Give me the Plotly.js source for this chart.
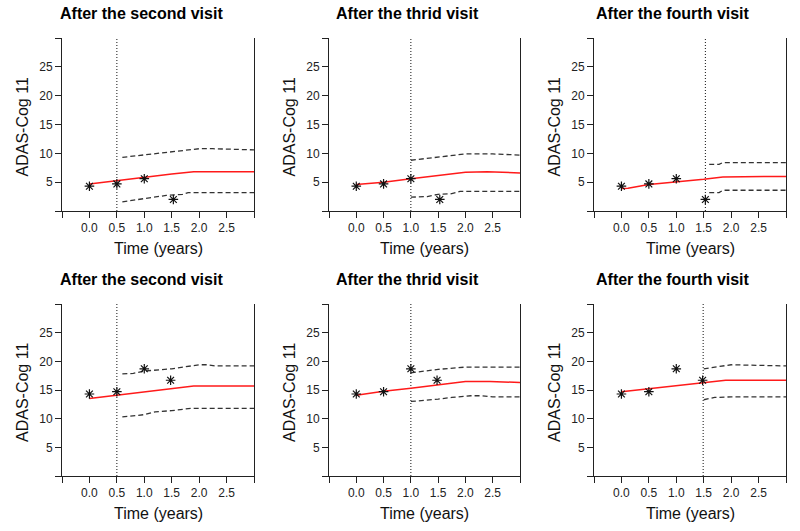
<!DOCTYPE html>
<html><head><meta charset="utf-8">
<script src="https://cdn.plot.ly/plotly-3.0.1.min.js"></script>
<style>html,body{margin:0;padding:0;background:#fff}#chart{width:800px;height:531px}</style>
</head><body><div id="chart"></div>
<script>
// ---------- data ----------
const panelTitles = ["After the second visit", "After the thrid visit", "After the fourth visit",
                     "After the second visit", "After the thrid visit", "After the fourth visit"];
const xTickVals = [-0.5, 0, 0.5, 1.0, 1.5, 2.0, 2.5, 3.0];
const xTickText = ["", "0.0", "0.5", "1.0", "1.5", "2.0", "2.5", ""];
const yTickVals = [0, 5, 10, 15, 20, 25, 30];
const yTickText = ["", "5", "10", "15", "20", "25", ""];
const xTitle = "Time (years)";
const yTitle = "ADAS-Cog 11";

// observed scores (patient of top row / bottom row)
const obsTimeTop = [0, 0.5, 1.0, 1.53];
const obsScoreTop = [4.3, 4.7, 5.6, 2.0];
const obsTimeBottom = [0, 0.5, 1.0, 1.48];
const obsScoreBottom = [14.3, 14.7, 18.7, 16.7];

// landmark (visit) time of each panel
const landmarkTimes = [0.5, 1.0, 1.53, 0.5, 1.0, 1.49];

// predicted mean trajectories
const meanT1 = [0, 0.5, 1.0, 1.5, 1.9, 3.0];
const meanY1 = [4.7, 5.3, 5.8, 6.4, 6.8, 6.8];
const meanT2 = [0, 0.5, 1.0, 1.5, 2.0, 2.4, 3.0];
const meanY2 = [4.6, 5.0, 5.6, 6.2, 6.7, 6.8, 6.6];
const meanT3 = [0, 0.12, 0.5, 1.0, 1.5, 1.85, 3.0];
const meanY3 = [3.9, 3.95, 4.6, 5.0, 5.5, 5.9, 6.0];
const meanT4 = [0, 0.5, 1.0, 1.5, 1.9, 3.0];
const meanY4 = [13.5, 14.1, 14.6, 15.2, 15.7, 15.7];
const meanT5 = [0, 0.5, 1.0, 1.5, 2.0, 2.45, 3.0];
const meanY5 = [14.1, 14.8, 15.3, 15.9, 16.5, 16.5, 16.3];
const meanT6 = [0, 0.5, 1.0, 1.5, 1.9, 3.0];
const meanY6 = [14.7, 15.2, 15.7, 16.3, 16.7, 16.7];

// upper prediction bounds
const upT1 = [0.6, 1.0, 1.5, 2.0, 2.25, 3.0];
const upY1 = [9.3, 9.7, 10.3, 10.8, 10.8, 10.6];
const upT2 = [1.0, 1.5, 1.8, 2.0, 2.5, 3.0];
const upY2 = [8.8, 9.3, 9.6, 9.9, 9.9, 9.7];
const upT3 = [1.6, 1.78, 1.85, 3.0];
const upY3 = [8.1, 8.1, 8.4, 8.4];
const upT4 = [0.6, 0.8, 1.0, 1.5, 2.0, 2.15, 2.3, 3.0];
const upY4 = [17.8, 17.9, 18.3, 18.7, 19.4, 19.4, 19.2, 19.2];
const upT5 = [1.0, 1.5, 2.0, 3.0];
const upY5 = [18.0, 18.6, 19.0, 19.0];
const upT6 = [1.5, 1.7, 2.0, 3.0];
const upY6 = [18.7, 19.0, 19.4, 19.2];

// lower prediction bounds
const loT1 = [0.6, 1.0, 1.4, 1.7, 1.8, 3.0];
const loY1 = [1.6, 2.1, 2.7, 2.9, 3.2, 3.2];
const loT2 = [1.0, 1.3, 1.5, 1.75, 1.9, 3.0];
const loY2 = [2.4, 2.5, 2.9, 3.0, 3.4, 3.4];
const loT3 = [1.6, 1.78, 1.85, 3.0];
const loY3 = [3.2, 3.2, 3.6, 3.6];
const loT4 = [0.6, 1.0, 1.2, 1.5, 1.85, 3.0];
const loY4 = [10.3, 10.7, 11.2, 11.4, 11.8, 11.8];
const loT5 = [1.0, 1.3, 1.5, 1.75, 2.1, 2.3, 2.5, 3.0];
const loY5 = [13.0, 13.2, 13.4, 13.7, 14.0, 14.0, 13.8, 13.8];
const loT6 = [1.5, 1.7, 2.0, 3.0];
const loY6 = [13.3, 13.7, 13.8, 13.8];

// ---------- build ----------
const W = 800, H = 531;
const FONT = "Liberation Sans, Arial, sans-serif";
const colLR = [[62, 254], [329, 520], [594, 786]];
const rowTB = [[38, 211], [304, 476]];

const means = [[meanT1, meanY1], [meanT2, meanY2], [meanT3, meanY3], [meanT4, meanY4], [meanT5, meanY5], [meanT6, meanY6]];
const ups = [[upT1, upY1], [upT2, upY2], [upT3, upY3], [upT4, upY4], [upT5, upY5], [upT6, upY6]];
const los = [[loT1, loY1], [loT2, loY2], [loT3, loY3], [loT4, loY4], [loT5, loY5], [loT6, loY6]];

const traces = [];
const layout = {
  width: W, height: H, margin: {l: 0, r: 0, t: 0, b: 0},
  paper_bgcolor: "#fff", plot_bgcolor: "#fff", showlegend: false,
  font: {family: FONT, color: "#222"}, annotations: []
};

for (let i = 0; i < 6; i++) {
  const row = Math.floor(i / 3), col = i % 3;
  const [L, R] = colLR[col], [T, B] = rowTB[row];
  const sfx = i === 0 ? "" : String(i + 1);
  const xa = "x" + sfx, ya = "y" + sfx;
  const obsT = row === 0 ? obsTimeTop : obsTimeBottom;
  const obsY = row === 0 ? obsScoreTop : obsScoreBottom;

  // landmark dotted line
  traces.push({x: [landmarkTimes[i], landmarkTimes[i]], y: [yTickVals[0], yTickVals[yTickVals.length - 1]],
    xaxis: xa, yaxis: ya, mode: "lines", line: {color: "#111", width: 1, dash: "1px,2px"}, hoverinfo: "skip"});
  // bounds
  traces.push({x: ups[i][0], y: ups[i][1], xaxis: xa, yaxis: ya, mode: "lines",
    line: {color: "#333", width: 1.3, dash: "5px,3px"}});
  traces.push({x: los[i][0], y: los[i][1], xaxis: xa, yaxis: ya, mode: "lines",
    line: {color: "#333", width: 1.3, dash: "5px,3px"}});
  // mean
  traces.push({x: means[i][0], y: means[i][1], xaxis: xa, yaxis: ya, mode: "lines",
    line: {color: "#ff1a1a", width: 1.5}});
  // observations
  traces.push({x: obsT, y: obsY, xaxis: xa, yaxis: ya, mode: "markers",
    marker: {symbol: "asterisk-open", size: 8, color: "#111", line: {color: "#111", width: 1.2}}});

  const axCommon = {showgrid: false, zeroline: false, showline: true, linecolor: "#222", linewidth: 1,
    ticks: "outside", ticklen: 6, tickcolor: "#222", tickwidth: 1, tickmode: "array",
    tickfont: {family: FONT, size: 12, color: "#222"}, fixedrange: true};
  layout["xaxis" + sfx] = Object.assign({}, axCommon, {
    domain: [L / W, R / W], anchor: ya, range: [-0.5, 3.0],
    tickvals: xTickVals, ticktext: xTickText});
  layout["yaxis" + sfx] = Object.assign({}, axCommon, {
    domain: [1 - B / H, 1 - T / H], anchor: xa, range: [0, 30], mirror: true,
    tickvals: yTickVals, ticktext: yTickText});

  layout.annotations.push({text: "<b>" + panelTitles[i] + "</b>", xref: "paper", yref: "paper",
    x: ((L + R) / 2 - 17) / W, y: 1 - (T - 25) / H, xanchor: "center", yanchor: "middle",
    showarrow: false, font: {family: FONT, size: 16, color: "#000"}});
  layout.annotations.push({text: yTitle, xref: "paper", yref: "paper",
    x: (L - 40) / W, y: 1 - ((T + B) / 2 + 3) / H, xanchor: "center", yanchor: "middle", textangle: -90,
    showarrow: false, font: {family: FONT, size: 16, color: "#111"}});
  layout.annotations.push({text: xTitle, xref: "paper", yref: "paper",
    x: ((L + R) / 2) / W, y: 1 - (B + 37) / H, xanchor: "center", yanchor: "middle",
    showarrow: false, font: {family: FONT, size: 16, color: "#111"}});
}

Plotly.newPlot("chart", traces, layout, {displayModeBar: false, staticPlot: true});
</script>
</body></html>
